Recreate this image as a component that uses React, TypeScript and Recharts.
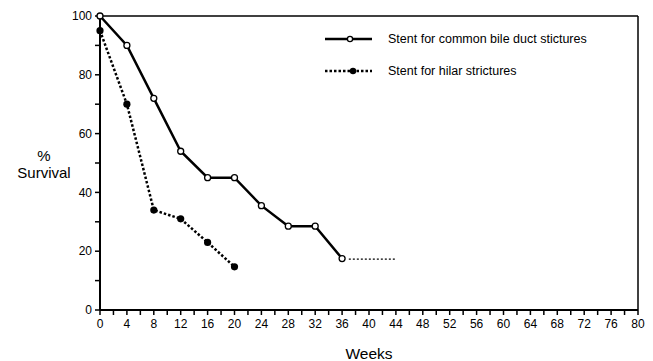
import React from 'react';
import { LineChart, Line, XAxis, YAxis, ReferenceLine, Legend } from 'recharts';

const cbdWeeks = [0, 4, 8, 12, 16, 20, 24, 28, 32, 36];
const cbdSurvival = [100, 90, 72, 54, 45, 45, 35.5, 28.5, 28.5, 17.5];
const hilarWeeks = [0, 4, 8, 12, 16, 20];
const hilarSurvival = [95, 70, 34, 31, 23, 14.7];
const censoredWeeks = [37, 44];
const censoredSurvival = [17.3, 17.3];
const xTicks = [0, 2, 4, 6, 8, 10, 12, 14, 16, 18, 20, 22, 24, 26, 28, 30, 32, 34, 36, 38, 40, 42, 44, 46, 48, 50, 52, 54, 56, 58, 60, 62, 64, 66, 68, 70, 72, 74, 76, 78, 80];
const yTicks = [0, 10, 20, 30, 40, 50, 60, 70, 80, 90, 100];
const seriesNames = ['Stent for common bile duct stictures', 'Stent for hilar strictures'];

const cbdData = cbdWeeks.map((w, i) => ({ week: w, survival: cbdSurvival[i] }));
const hilarData = hilarWeeks.map((w, i) => ({ week: w, survival: hilarSurvival[i] }));
const censoredData = censoredWeeks.map((w, i) => ({ week: w, survival: censoredSurvival[i] }));

const FONT = 'Liberation Sans, Arial, Helvetica, sans-serif';

const OpenDot = (props: any) => {
  const { cx, cy, index } = props;
  return <circle key={`o${index}`} cx={cx} cy={cy} r={3} fill="#fff" stroke="#000" strokeWidth={1.3} />;
};
const FilledDot = (props: any) => {
  const { cx, cy, index } = props;
  return <circle key={`f${index}`} cx={cx} cy={cy} r={3.6} fill="#000" stroke="none" />;
};

const LegendContent = () => (
  <div style={{ fontFamily: FONT, fontSize: 12.5, color: '#000' }}>
    <div style={{ display: 'flex', alignItems: 'center', height: 16 }}>
      <svg width={63} height={16}>
        <line x1={0} y1={8} x2={47} y2={8} stroke="#000" strokeWidth={2.5} />
        <circle cx={25} cy={8} r={2.6} fill="#fff" stroke="#000" strokeWidth={1.3} />
      </svg>
      <span>{seriesNames[0]}</span>
    </div>
    <div style={{ display: 'flex', alignItems: 'center', height: 16, marginTop: 16 }}>
      <svg width={63} height={16}>
        <line x1={0} y1={8} x2={47} y2={8} stroke="#000" strokeWidth={2.5} strokeDasharray="2.5 2" />
        <circle cx={28} cy={8} r={3.2} fill="#000" />
      </svg>
      <span>{seriesNames[1]}</span>
    </div>
  </div>
);

export default function App() {
  return (
    <div style={{ position: 'absolute', left: 0, top: 0, width: 653, height: 361, background: '#fff' }}>
      <LineChart width={653} height={361} margin={{ top: 16, right: 15, bottom: 0, left: 0 }}>
        <XAxis
          type="number"
          dataKey="week"
          domain={[0, 80]}
          ticks={xTicks}
          interval={0}
          tickFormatter={(v: number) => (v % 4 === 0 ? String(v) : '')}
          height={51}
          tickSize={5}
          tickMargin={4}
          axisLine={{ stroke: '#000', strokeWidth: 2 }}
          tickLine={{ stroke: '#000', strokeWidth: 1.5 }}
          tick={{ fill: '#000', fontSize: 12, fontFamily: FONT }}
          allowDuplicatedCategory={false}
          label={{
            content: (p: any) => {
              const vb = p.viewBox || { x: 100, y: 310, width: 538 };
              return (
                <text x={vb.x + vb.width / 2} y={vb.y + 49} textAnchor="middle" fontSize={15.5} fontFamily={FONT} fill="#000">
                  Weeks
                </text>
              );
            },
          }}
        />
        <YAxis
          type="number"
          domain={[0, 100]}
          ticks={yTicks}
          interval={0}
          tickFormatter={(v: number) => (v % 20 === 0 ? String(v) : '')}
          width={100}
          tickSize={5}
          tickMargin={3}
          axisLine={{ stroke: '#000', strokeWidth: 2 }}
          tickLine={{ stroke: '#000', strokeWidth: 1.5 }}
          tick={{ fill: '#000', fontSize: 12, fontFamily: FONT }}
          label={{
            content: (p: any) => {
              const vb = p.viewBox || { x: 0, y: 16, width: 100, height: 294 };
              const cy = vb.y + vb.height / 2;
              return (
                <text fontSize={15} fontFamily={FONT} fill="#000" textAnchor="middle">
                  <tspan x={44} y={cy - 2}>%</tspan>
                  <tspan x={44} y={cy + 15}>Survival</tspan>
                </text>
              );
            },
          }}
        />
        <ReferenceLine y={100} stroke="#000" strokeWidth={1.5} ifOverflow="visible" />
        <ReferenceLine x={80} stroke="#000" strokeWidth={1.5} ifOverflow="visible" />
        <Legend
          layout="vertical"
          align="center"
          verticalAlign="middle"
          content={<LegendContent />}
          wrapperStyle={{ position: 'absolute', left: 325, top: 31, width: 320 }}
        />
        <Line
          data={cbdData}
          dataKey="survival"
          name={seriesNames[0]}
          stroke="#000"
          strokeWidth={2.5}
          dot={<OpenDot />}
          isAnimationActive={false}
          legendType="none"
        />
        <Line
          data={hilarData}
          dataKey="survival"
          name={seriesNames[1]}
          stroke="#000"
          strokeWidth={2.5}
          strokeDasharray="2.5 2"
          dot={<FilledDot />}
          isAnimationActive={false}
          legendType="none"
        />
        <Line
          data={censoredData}
          dataKey="survival"
          stroke="#000"
          strokeWidth={1.3}
          strokeDasharray="2 2"
          dot={false}
          isAnimationActive={false}
          legendType="none"
        />
      </LineChart>
    </div>
  );
}
